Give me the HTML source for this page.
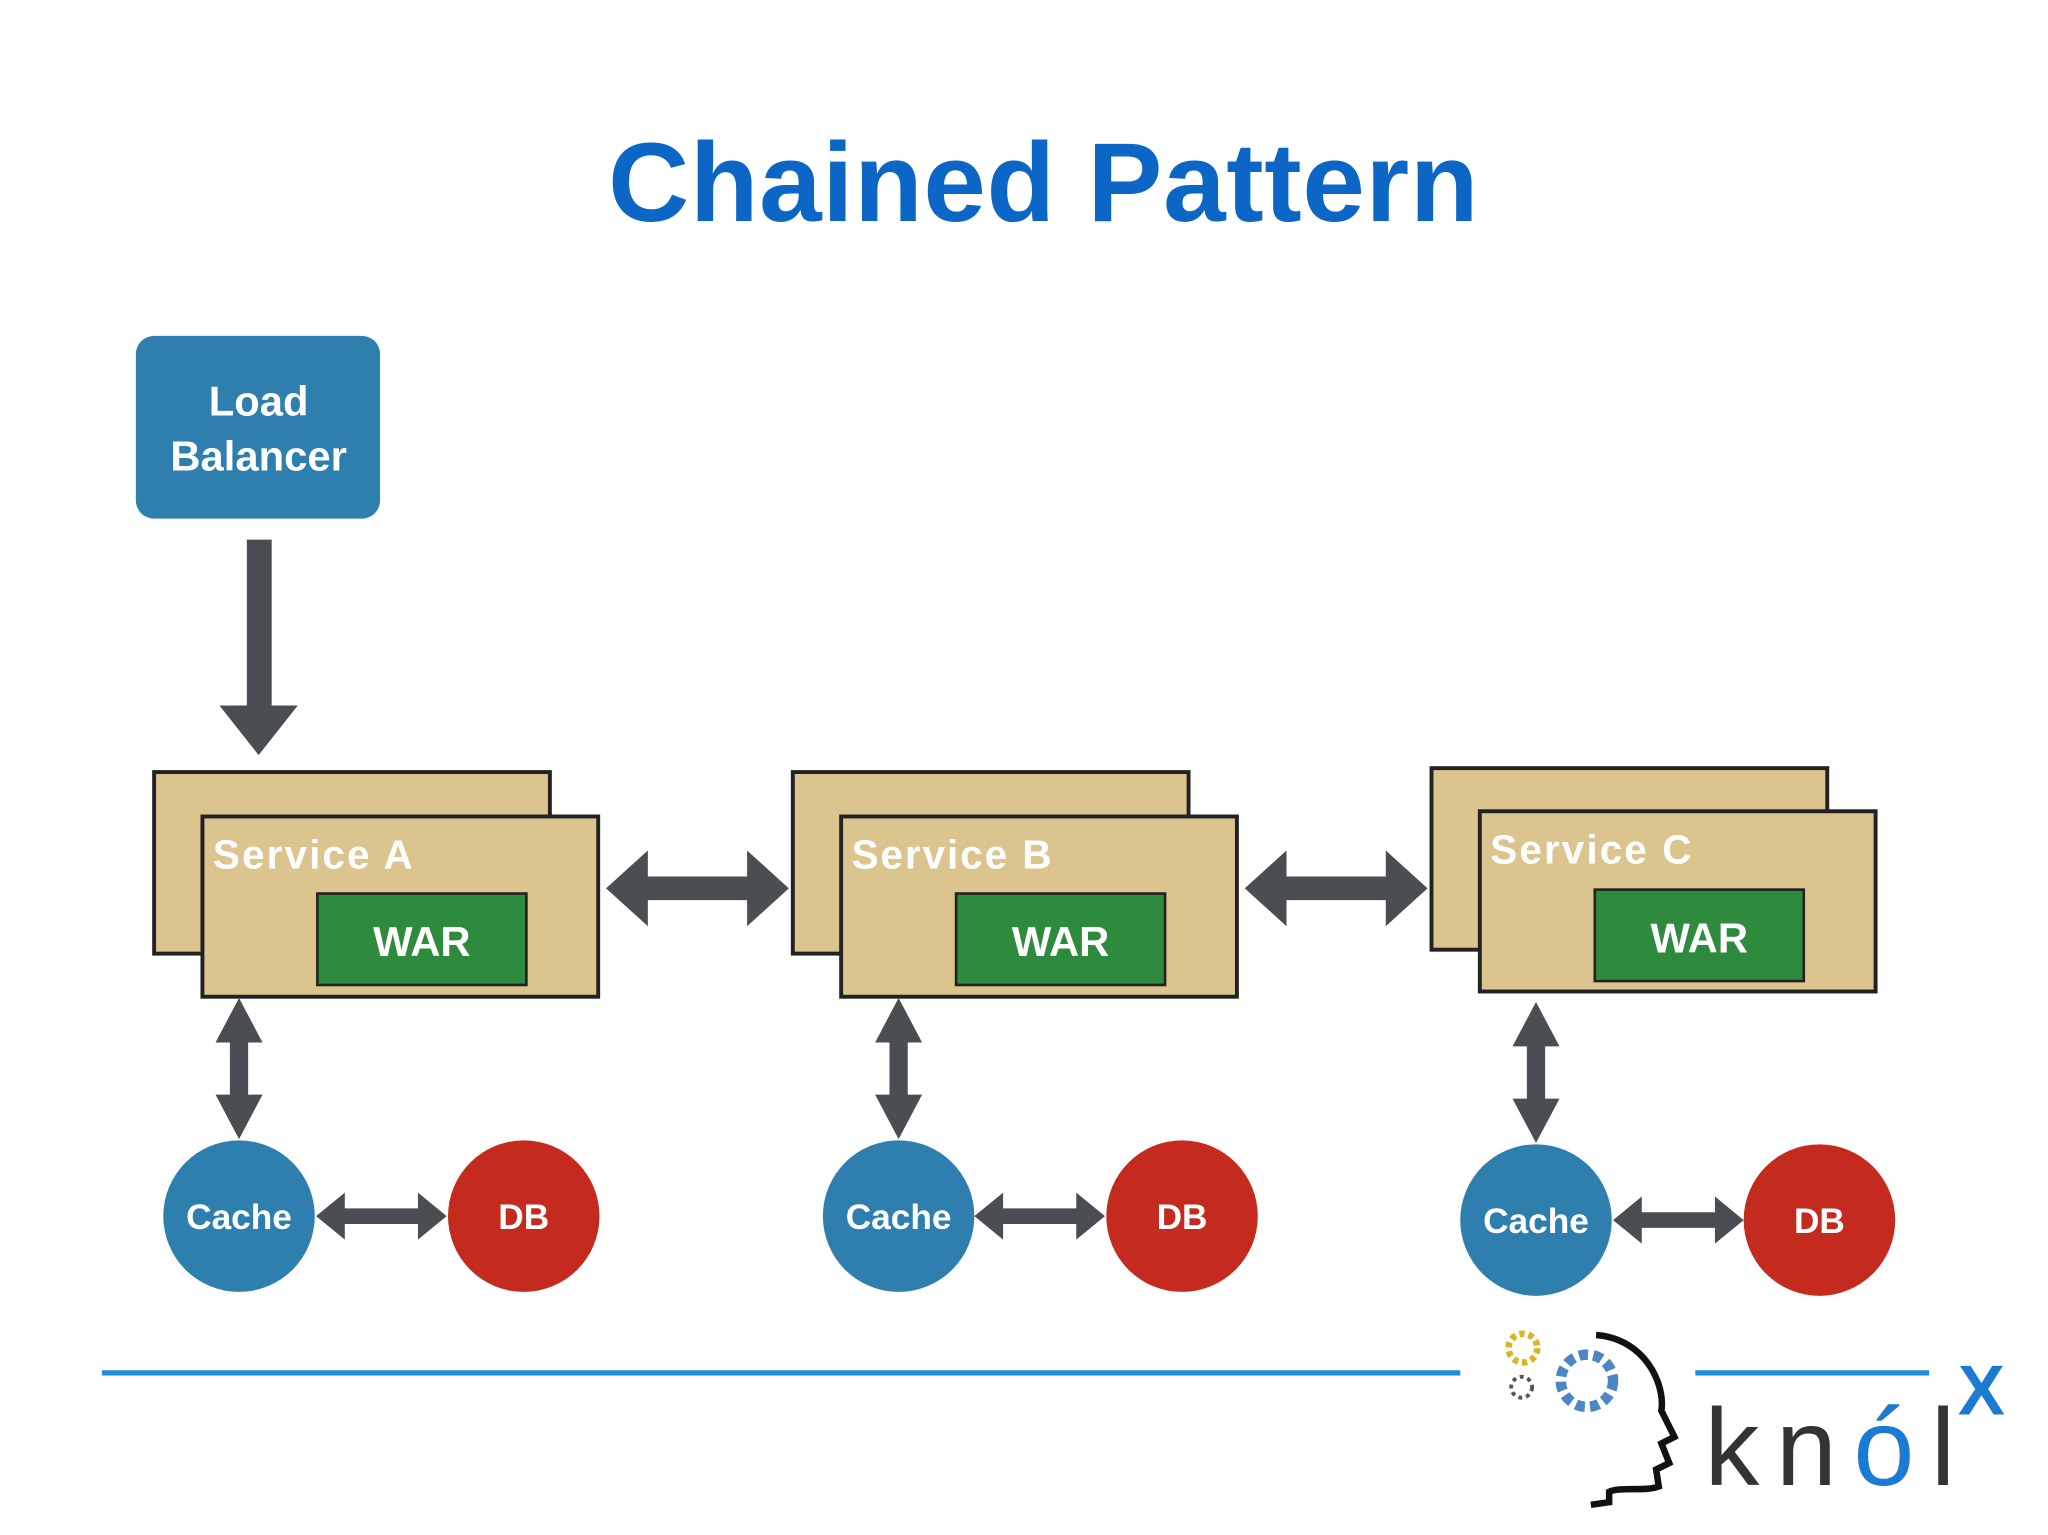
<!DOCTYPE html>
<html><head><meta charset="utf-8"><style>
html,body{margin:0;padding:0;background:#fff;}
svg{display:block;}
text{font-family:"Liberation Sans",sans-serif;font-weight:bold;}
</style></head><body>
<svg width="2048" height="1535" viewBox="0 0 1568 1175" xmlns="http://www.w3.org/2000/svg">
<defs>
<g id="harrow">
<polygon points="-70,0 -38,-29 -38,-9 38,-9 38,-29 70,0 38,29 38,9 -38,9 -38,29" fill="#4a4d52"/>
</g>
<g id="varrow">
<polygon points="0,-54 -18,-20 -7,-20 -7,20 -18,20 0,54 18,20 7,20 7,-20 18,-20" fill="#4a4d52"/>
</g>
<g id="sarrow">
<polygon points="-50,0 -28,-18 -28,-6 28,-6 28,-18 50,0 28,18 28,6 -28,6 -28,18" fill="#4a4d52"/>
</g>
</defs>
<rect width="1568" height="1175" fill="#fff"/>
<text x="799" y="169" text-anchor="middle" font-size="86" letter-spacing="0.5" fill="#0b66c6">Chained Pattern</text>

<rect x="104" y="257" width="187" height="140" rx="14" fill="#2f7fae"/>
<text x="198" y="318" text-anchor="middle" font-size="32" fill="#fff">Load</text>
<text x="198" y="360" text-anchor="middle" font-size="32" fill="#fff">Balancer</text>
<polygon points="189,413 208,413 208,540 228,540 198,578 168,540 189,540" fill="#4a4d52"/>

<rect x="118" y="591" width="303" height="139" fill="#dcc48f" stroke="#222" stroke-width="3"/>
<rect x="155" y="625" width="303" height="138" fill="#dcc48f" stroke="#222" stroke-width="3"/>
<text x="163" y="665" font-size="31" fill="#fff" textLength="153">Service A</text>
<rect x="243" y="684" width="160" height="70" fill="#2e8b3e" stroke="#222" stroke-width="2"/>
<text x="323" y="732" text-anchor="middle" font-size="32" fill="#fff">WAR</text>

<rect x="607" y="591" width="303" height="139" fill="#dcc48f" stroke="#222" stroke-width="3"/>
<rect x="644" y="625" width="303" height="138" fill="#dcc48f" stroke="#222" stroke-width="3"/>
<text x="652" y="665" font-size="31" fill="#fff" textLength="153">Service B</text>
<rect x="732" y="684" width="160" height="70" fill="#2e8b3e" stroke="#222" stroke-width="2"/>
<text x="812" y="732" text-anchor="middle" font-size="32" fill="#fff">WAR</text>

<rect x="1096" y="588" width="303" height="139" fill="#dcc48f" stroke="#222" stroke-width="3"/>
<rect x="1133" y="621" width="303" height="138" fill="#dcc48f" stroke="#222" stroke-width="3"/>
<text x="1141" y="661" font-size="31" fill="#fff" textLength="154">Service C</text>
<rect x="1221" y="681" width="160" height="70" fill="#2e8b3e" stroke="#222" stroke-width="2"/>
<text x="1301" y="729" text-anchor="middle" font-size="32" fill="#fff">WAR</text>

<use href="#harrow" x="534" y="680"/>
<use href="#harrow" x="1023" y="680"/>

<use href="#varrow" x="183" y="818"/>
<use href="#varrow" x="688" y="818"/>
<use href="#varrow" x="1176" y="821"/>

<circle cx="183" cy="931" r="58" fill="#2f7fae"/>
<circle cx="401" cy="931" r="58" fill="#c42a1e"/>
<text x="183" y="941" text-anchor="middle" font-size="27" fill="#fff">Cache</text>
<text x="401" y="941" text-anchor="middle" font-size="27" fill="#fff">DB</text>
<use href="#sarrow" x="292" y="931"/>

<circle cx="688" cy="931" r="58" fill="#2f7fae"/>
<circle cx="905" cy="931" r="58" fill="#c42a1e"/>
<text x="688" y="941" text-anchor="middle" font-size="27" fill="#fff">Cache</text>
<text x="905" y="941" text-anchor="middle" font-size="27" fill="#fff">DB</text>
<use href="#sarrow" x="796" y="931"/>

<circle cx="1176" cy="934" r="58" fill="#2f7fae"/>
<circle cx="1393" cy="934" r="58" fill="#c42a1e"/>
<text x="1176" y="944" text-anchor="middle" font-size="27" fill="#fff">Cache</text>
<text x="1393" y="944" text-anchor="middle" font-size="27" fill="#fff">DB</text>
<use href="#sarrow" x="1285" y="934"/>

<rect x="78" y="1049" width="1040" height="4" fill="#1a8ce0"/>
<rect x="1298" y="1049" width="179" height="4" fill="#1a8ce0"/>
<circle cx="1166" cy="1032" r="11" fill="none" stroke="#d9b520" stroke-width="5" stroke-dasharray="4 3"/>
<circle cx="1165" cy="1062" r="8" fill="none" stroke="#555" stroke-width="3" stroke-dasharray="3 3"/>
<circle cx="1215" cy="1057" r="20" fill="none" stroke="#4d86c4" stroke-width="8" stroke-dasharray="7 4"/>
<path d="M1222,1022 C1260,1025 1275,1060 1272,1080 L1282,1100 L1272,1105 L1278,1120 L1268,1125 L1270,1138 C1260,1142 1240,1138 1232,1142 L1232,1150 L1218,1152" fill="none" stroke="#111" stroke-width="5"/>
<text x="1305" y="1137" font-size="84" fill="#333" style="font-weight:normal" textLength="192">kn<tspan fill="#1a7ad4">ó</tspan>l</text>
<text x="1499" y="1083" font-size="54" fill="#1a7ad4" style="font-weight:bold">X</text>
</svg>
</body></html>
